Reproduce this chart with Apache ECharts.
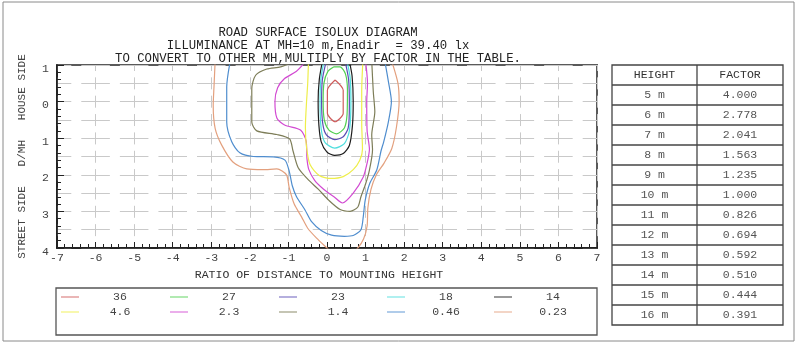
<!DOCTYPE html>
<html>
<head>
<meta charset="utf-8">
<script src="https://cdn.jsdelivr.net/npm/echarts@6/dist/echarts.min.js"></script>
<style>
html, body { margin: 0; padding: 0; background: #fff; }
#chart { width: 800px; height: 345px; }
</style>
</head>
<body>
<div id="chart"></div>
<script>
// isolux levels (lx) and their line colours, legend order
const levels = ['36', '27', '23', '18', '14', '4.6', '2.3', '1.4', '0.46', '0.23'];
const lineColors = ['#cf5c5c', '#52d052', '#5a4db4', '#4fdede', '#1e1e1e', '#eeee4a', '#d24ad2', '#7d7d58', '#4f8dce', '#e3a07e'];

// contour paths: [x = D/MH across road, y = D/MH along road]
const c36 = [[0.21,-0.59],[0.42,-0.31],[0.42,0.32],[0.21,0.55],[0.01,0.32],[0.01,-0.31],[0.21,-0.59]];
const c27 = [[0.18,-0.95],[0.02,-0.82],[-0.08,-0.5],[-0.1,0.0],[-0.07,0.5],[0.05,0.78],[0.25,0.88],[0.45,0.72],[0.52,0.35],[0.53,-0.3],[0.48,-0.75],[0.34,-0.95],[0.18,-0.95]];
const c23 = [[-0.02,-1.1],[-0.12,-0.6],[-0.14,0],[-0.11,0.6],[-0.02,0.9],[0.2,1.04],[0.42,0.96],[0.55,0.72],[0.58,0.1],[0.56,-0.6],[0.47,-1.1]];
const c18 = [[-0.08,-1.1],[-0.16,-0.6],[-0.18,0],[-0.15,0.75],[-0.05,1.12],[0.2,1.27],[0.45,1.15],[0.58,0.8],[0.62,0.0],[0.6,-0.65],[0.52,-1.1]];
const c14 = [[-0.12,-1.1],[-0.2,-0.6],[-0.23,0],[-0.21,0.65],[-0.15,1.1],[0.0,1.38],[0.2,1.47],[0.42,1.42],[0.58,1.2],[0.66,0.65],[0.68,0.0],[0.65,-0.7],[0.58,-1.1]];
const c4_6 = [[-0.48,-1.1],[-0.5,-0.5],[-0.53,0.0],[-0.56,0.7],[-0.53,1.25],[-0.44,1.72],[-0.2,2.02],[0.1,2.1],[0.42,2.05],[0.68,1.86],[0.85,1.6],[0.92,1.3],[0.9,0.6],[0.9,-0.3],[0.93,-1.1]];
const c2_3 = [[-0.55,-1.1],[-0.8,-0.82],[-1.1,-0.63],[-1.28,-0.38],[-1.35,0],[-1.3,0.45],[-1.1,0.64],[-0.68,0.78],[-0.54,1.08],[-0.52,1.55],[-0.47,1.86],[-0.32,2.15],[-0.08,2.4],[0.18,2.6],[0.4,2.77],[0.68,2.5],[0.94,2.06],[1.04,1.68],[1.1,1.3],[1.04,0.8],[1.03,0],[1.05,-0.5],[1.0,-1.1]];
const c1_4 = [[-0.85,-1.1],[-1.2,-0.95],[-1.56,-0.89],[-1.85,-0.72],[-1.95,-0.35],[-1.95,0.56],[-1.82,0.8],[-1.3,0.9],[-0.97,1.02],[-0.88,1.35],[-0.75,1.8],[-0.5,2.12],[-0.22,2.4],[0.05,2.7],[0.34,2.95],[0.6,3.0],[0.8,2.88],[0.88,2.6],[1.0,2.25],[1.1,1.87],[1.18,1.32],[1.16,0.91],[1.24,0.28],[1.2,-0.27],[1.16,-1.1]];
const c0_46 = [[-2.51,-1.1],[-2.6,-0.4],[-2.6,0.56],[-2.47,1.1],[-2.26,1.4],[-1.91,1.5],[-1.39,1.51],[-1.09,1.6],[-0.98,1.9],[-0.9,2.3],[-0.79,2.6],[-0.57,2.96],[-0.4,3.28],[-0.15,3.52],[0.12,3.65],[0.45,3.68],[0.68,3.66],[0.88,3.5],[0.94,3.15],[0.99,2.7],[1.11,2.23],[1.29,1.87],[1.4,1.35],[1.47,1.1],[1.59,0.56],[1.67,0.0],[1.6,-0.5],[1.5,-1.1]];
const c0_23 = [[-2.9,-1.1],[-2.93,-0.4],[-2.95,0.1],[-2.9,0.73],[-2.73,1.19],[-2.44,1.65],[-2.08,1.84],[-1.66,1.86],[-1.3,1.84],[-1.05,2.0],[-0.98,2.35],[-0.85,2.8],[-0.66,3.15],[-0.5,3.46],[-0.27,3.73],[0.0,4.0],[0.4,4.4],[0.8,4.0],[0.95,3.75],[1.04,3.4],[1.06,2.9],[1.14,2.4],[1.28,2.0],[1.48,1.68],[1.68,1.28],[1.8,0.7],[1.87,0.0],[1.84,-0.5],[1.68,-1.1]];
const contours = [c36, c27, c23, c18, c14, c4_6, c2_3, c1_4, c0_46, c0_23];

// conversion table
const heights = ['5 m','6 m','7 m','8 m','9 m','10 m','11 m','12 m','13 m','14 m','15 m','16 m'];
const factors = ['4.000','2.778','2.041','1.563','1.235','1.000','0.826','0.694','0.592','0.510','0.444','0.391'];

const titleLines = [
  'ROAD SURFACE ISOLUX DIAGRAM',
  'ILLUMINANCE AT MH=10 m,Enadir  = 39.40 lx',
  'TO CONVERT TO OTHER MH,MULTIPLY BY FACTOR IN THE TABLE.'
];

const mono = 'Liberation Mono';
let myChart = echarts.init(document.getElementById('chart'));

let series = contours.map((pts, i) => ({
  name: levels[i],
  type: 'line',
  data: pts,
  color: lineColors[i],
  showSymbol: false,
  smooth: 0.25,
  lineStyle: { width: 1.2 },
  z: 3,
  animation: false
})).reverse();

// table + frame + title drawn as graphics
let graphics = [];
graphics.push({ type: 'rect', shape: { x: 3, y: 2, width: 791, height: 339 }, style: { fill: 'none', stroke: '#8a8a8a', lineWidth: 1 } });
titleLines.forEach((t, i) => {
  graphics.push({ type: 'text', x: 318, y: 32.5 + i * 13.2, style: { text: t, fontFamily: mono, fontSize: 12.3, fill: '#222', align: 'center', verticalAlign: 'middle' } });
});
const tx = 612, tw = 171, tdiv = 697, ty = 65, rh = 20;
graphics.push({ type: 'rect', shape: { x: tx, y: ty, width: tw, height: rh * 13 }, style: { fill: 'none', stroke: '#444', lineWidth: 1.3 } });
graphics.push({ type: 'line', shape: { x1: tdiv, y1: ty, x2: tdiv, y2: ty + rh * 13 }, style: { stroke: '#444', lineWidth: 1.3 } });
for (let r = 1; r < 13; r++) {
  graphics.push({ type: 'line', shape: { x1: tx, y1: ty + rh * r, x2: tx + tw, y2: ty + rh * r }, style: { stroke: '#444', lineWidth: 1.3 } });
}
graphics.push({ type: 'text', x: (tx + tdiv) / 2, y: ty + rh / 2, style: { text: 'HEIGHT', fontFamily: mono, fontSize: 11.5, fill: '#333', align: 'center', verticalAlign: 'middle' } });
graphics.push({ type: 'text', x: (tdiv + tx + tw) / 2, y: ty + rh / 2, style: { text: 'FACTOR', fontFamily: mono, fontSize: 11.5, fill: '#333', align: 'center', verticalAlign: 'middle' } });
heights.forEach((h, i) => {
  graphics.push({ type: 'text', x: (tx + tdiv) / 2, y: ty + rh * (i + 1.5), style: { text: h, fontFamily: mono, fontSize: 11.5, fill: '#555', align: 'center', verticalAlign: 'middle' } });
  graphics.push({ type: 'text', x: (tdiv + tx + tw) / 2, y: ty + rh * (i + 1.5), style: { text: factors[i], fontFamily: mono, fontSize: 11.5, fill: '#555', align: 'center', verticalAlign: 'middle' } });
});
// legend frame
graphics.push({ type: 'rect', shape: { x: 56, y: 288, width: 541, height: 47 }, style: { fill: 'none', stroke: '#555', lineWidth: 1.3 } });

// one small legend per column, two rows each
const legendCols = [61, 170, 279, 387, 494];
let legends = legendCols.map((x, c) => ({
  orient: 'vertical',
  left: x - 5,
  top: 286,
  icon: 'rect',
  itemWidth: 18,
  itemHeight: 1.5,
  itemGap: 3,
  selectedMode: false,
  itemStyle: { opacity: 0.6 },
  data: [levels[c], levels[c + 5]],
  formatter: n => '{a|' + n + '}',
  textStyle: { rich: { a: { width: 72, align: 'center', fontFamily: mono, fontSize: 11.5, color: '#444' } } }
}));

let option = {
  animation: false,
  textStyle: { fontFamily: mono },
  grid: { left: 57, right: 203, top: 65, bottom: 97, show: true, borderColor: '#5a5a5a', borderWidth: 2 },
  legend: legends,
  xAxis: {
    type: 'value', min: -7, max: 7, interval: 1,
    name: 'RATIO OF DISTANCE TO MOUNTING HEIGHT',
    nameLocation: 'middle', nameGap: 17,
    nameTextStyle: { fontFamily: mono, fontSize: 11.5, color: '#333', padding: [0, 16, 0, 0] },
    axisLine: { onZero: false, lineStyle: { color: '#111', width: 1.5 } },
    axisTick: { inside: true, length: 6, lineStyle: { color: '#222' } },
    minorTick: { show: true, splitNumber: 5, length: 4, lineStyle: { color: '#222' } },
    axisLabel: { margin: 4, fontFamily: mono, fontSize: 11.5, color: '#444' },
    splitLine: { show: true, lineStyle: { color: '#c9c9c9', width: 1, type: [12, 6.35], dashOffset: 6 } }
  },
  yAxis: [{
    type: 'value', min: -1, max: 4, interval: 1, inverse: true,
    name: 'STREET SIDE   D/MH   HOUSE SIDE',
    nameLocation: 'middle', nameGap: 29, nameRotate: 90,
    nameTextStyle: { fontFamily: mono, fontSize: 11, color: '#444' },
    axisLine: { onZero: false, lineStyle: { color: '#111', width: 1.5 } },
    axisTick: { inside: true, length: 7, lineStyle: { color: '#222' } },
    minorTick: { show: true, splitNumber: 5, length: 4, lineStyle: { color: '#222' } },
    axisLabel: { margin: 8, fontFamily: mono, fontSize: 11.5, color: '#444', verticalAlign: 'top', lineHeight: 7, formatter: v => String(Math.abs(v)) },
    splitLine: { show: false }
  }, {
    type: 'value', min: -1, max: 4, interval: 0.5, inverse: true, position: 'left',
    axisLine: { show: false, onZero: false }, axisTick: { show: false }, axisLabel: { show: false },
    splitLine: { show: true, lineStyle: { color: '#c9c9c9', width: 1, type: [28.57, 10], dashOffset: 14.28 } }
  }],
  graphic: graphics,
  series: series
};

myChart.setOption(option);
</script>
</body>
</html>
